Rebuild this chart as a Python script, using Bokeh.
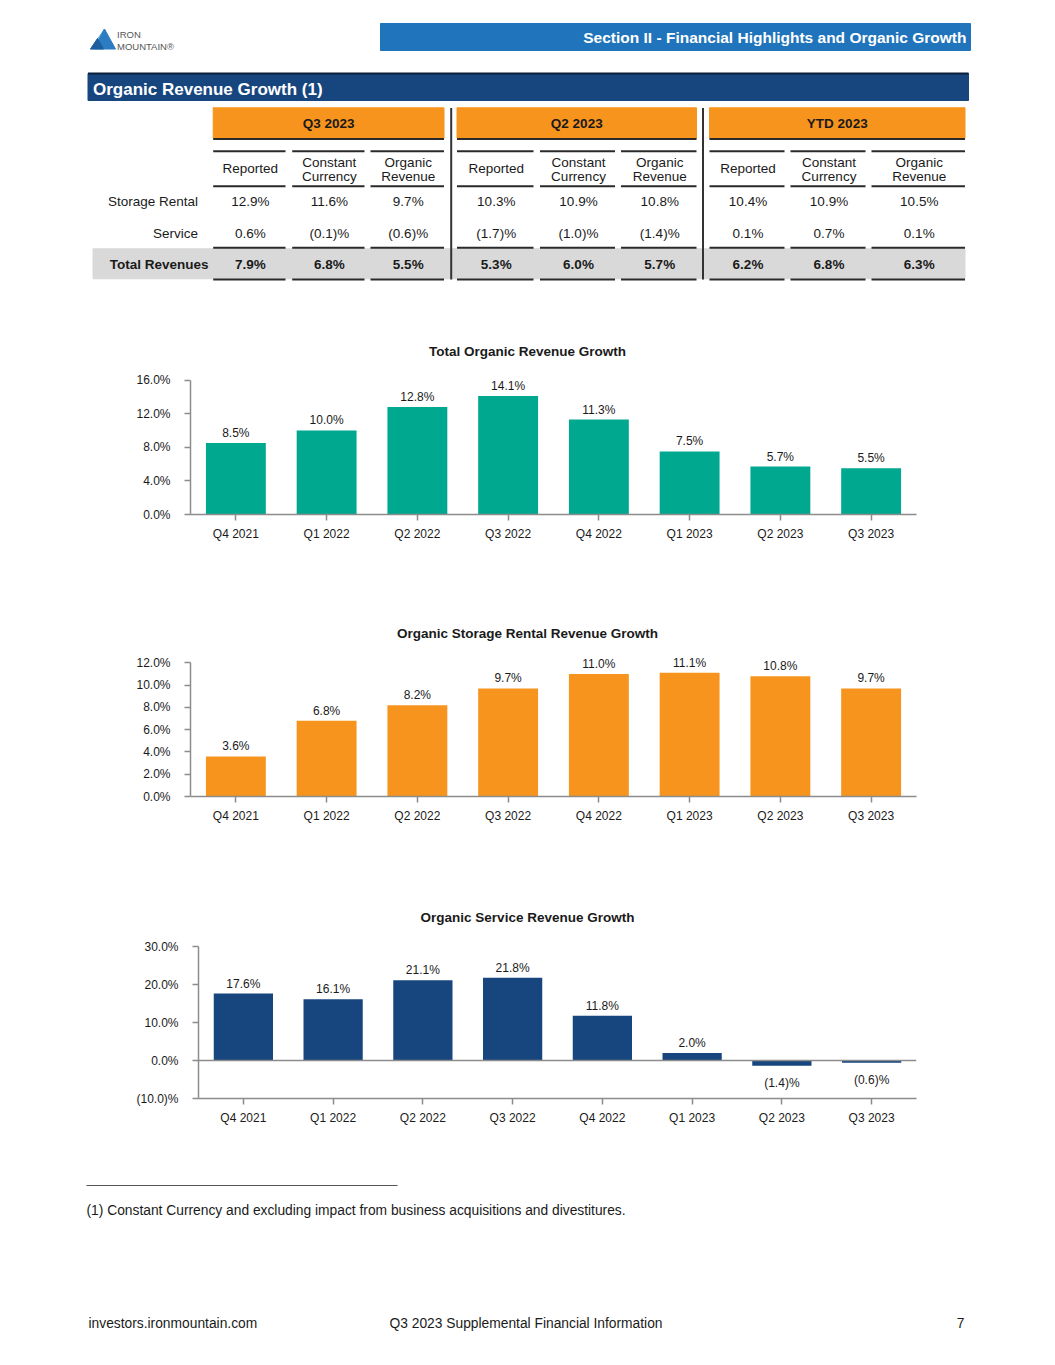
from bokeh.plotting import figure
from bokeh.models import FactorRange, Range1d, FixedTicker, Label, LabelSet, ColumnDataSource, Span
from bokeh.embed import file_html
from bokeh.resources import INLINE
from bokeh.core.properties import value

FONT = "Liberation Sans"
TXT = "#1a1a1a"
AXIS = "#8c8c8c"
TEAL = "#00A88F"
ORANGE = "#F7941D"
NAVY = "#17467F"
BANNER = "#1F74BB"
GRAY_BAND = "#D9D9D9"
PAGE_W = 1039

# ---------------- data ----------------
quarters = ["Q4 2021", "Q1 2022", "Q2 2022", "Q3 2022", "Q4 2022", "Q1 2023", "Q2 2023", "Q3 2023"]
total_growth = [8.5, 10.0, 12.8, 14.1, 11.3, 7.5, 5.7, 5.5]
storage_growth = [3.6, 6.8, 8.2, 9.7, 11.0, 11.1, 10.8, 9.7]
service_growth = [17.6, 16.1, 21.1, 21.8, 11.8, 2.0, -1.4, -0.6]

total_ticks = [0, 4, 8, 12, 16]
total_tick_labels = ["0.0%", "4.0%", "8.0%", "12.0%", "16.0%"]
storage_ticks = [0, 2, 4, 6, 8, 10, 12]
storage_tick_labels = ["0.0%", "2.0%", "4.0%", "6.0%", "8.0%", "10.0%", "12.0%"]
service_ticks = [-10, 0, 10, 20, 30]
service_tick_labels = ["(10.0)%", "0.0%", "10.0%", "20.0%", "30.0%"]

periods = ["Q3 2023", "Q2 2023", "YTD 2023"]
measures = [["Reported"], ["Constant", "Currency"], ["Organic", "Revenue"]]
row_labels = ["Storage Rental", "Service", "Total Revenues"]
storage_rental_row = [12.9, 11.6, 9.7, 10.3, 10.9, 10.8, 10.4, 10.9, 10.5]
service_row = [0.6, -0.1, -0.6, -1.7, -1.0, -1.4, 0.1, 0.7, 0.1]
total_row = [7.9, 6.8, 5.5, 5.3, 6.0, 5.7, 6.2, 6.8, 6.3]

section_title = "Section II - Financial Highlights and Organic Growth"
table_title = "Organic Revenue Growth (1)"
chart_titles = ["Total Organic Revenue Growth", "Organic Storage Rental Revenue Growth",
                "Organic Service Revenue Growth"]
footnote = "(1) Constant Currency and excluding impact from business acquisitions and divestitures."
footer_left = "investors.ironmountain.com"
footer_mid = "Q3 2023 Supplemental Financial Information"
footer_page = "7"


def pct(v):
    return f"({abs(v):.1f})%" if v < 0 else f"{v:.1f}%"


def txt(p, x, y, s, size="13.5px", align="center", bold=False, color=TXT, baseline="middle"):
    p.text(x=[x], y=[y], text=[s], text_font=value(FONT), text_font_size=size,
           text_align=align, text_baseline=baseline, text_color=color,
           text_font_style="bold" if bold else "normal")


def page_fig(y0, y1):
    p = figure(width=PAGE_W, height=y1 - y0, x_range=Range1d(0, PAGE_W), y_range=Range1d(y1, y0),
               output_backend="svg", toolbar_location=None, min_border=0,
               x_axis_location=None, y_axis_location=None, outline_line_color=None)
    p.grid.visible = False
    return p


# ---------------- header + table ----------------
top = page_fig(0, 300)

# logo
top.patch(x=[90, 104, 101, 94], y=[48.5, 28.5, 34, 48.5], color="#6AB2E0")
top.patch(x=[94, 101, 104, 115], y=[48.5, 34, 28.5, 48.5], color="#2B7CC1")
top.patch(x=[90, 97, 103, 96], y=[48.5, 38, 48.5, 48.5], color="#1E5E9E")
txt(top, 116.5, 34, "IRON", size="9.5px", align="left", color="#555555")
txt(top, 116.5, 45.5, "MOUNTAIN®", size="9.5px", align="left", color="#555555")

# section banner
top.quad(left=[380], right=[970], top=[23], bottom=[50], color=BANNER)
txt(top, 966, 36.5, section_title, size="15.5px", align="right", bold=True, color="white")

# table title banner
top.quad(left=[87.5], right=[968], top=[73], bottom=[100], color=NAVY)
top.segment(x0=[87.5], x1=[968], y0=[73], y1=[73], line_color="#0b1f3a", line_width=2)
txt(top, 92.5, 88.5, table_title, size="17px", align="left", bold=True, color="white")

group_spans = [(212.7, 443.5), (456.5, 696), (709, 964.5)]
col_spans = [(212.7, 285), (291.7, 364), (370, 443.5),
             (456.5, 533), (539.5, 614.5), (620.5, 696),
             (709, 784), (790, 865), (871, 964.5)]
col_centers = [(a + b) / 2 + 1 for a, b in col_spans]

# gray band for total row
top.quad(left=[92.5], right=[964.5], top=[248.3], bottom=[278.3], color=GRAY_BAND)

for (a, b), name in zip(group_spans, periods):
    top.quad(left=[a], right=[b], top=[107.3], bottom=[138], color=ORANGE)
    top.segment(x0=[a], x1=[b], y0=[138.5], y1=[138.5], line_color="#2a2a2a", line_width=2)
    txt(top, (a + b) / 2, 123, name, bold=True)

for y in (150.7, 185.7, 247.3, 279):
    top.segment(x0=[a for a, b in col_spans], x1=[b for a, b in col_spans],
                y0=[y] * 9, y1=[y] * 9, line_color="#2a2a2a", line_width=2)

for xs in (450.7, 702.5):
    top.segment(x0=[xs], x1=[xs], y0=[107.5], y1=[279], line_color="#333333", line_width=2)

for i, cx in enumerate(col_centers):
    m = measures[i % 3]
    if len(m) == 1:
        txt(top, cx, 168.3, m[0])
    else:
        txt(top, cx, 161.5, m[0])
        txt(top, cx, 175.5, m[1])

row_y = [201, 232.5, 263.5]
txt(top, 197.5, row_y[0], row_labels[0], align="right")
txt(top, 197.5, row_y[1], row_labels[1], align="right")
txt(top, 208, row_y[2], row_labels[2], align="right", bold=True)
for rows, y, bold in ((storage_rental_row, row_y[0], False), (service_row, row_y[1], False),
                      (total_row, row_y[2], True)):
    top.text(x=col_centers, y=[y] * 9, text=[pct(v) for v in rows], text_font=value(FONT),
             text_font_size="13.5px", text_align="center", text_baseline="middle",
             text_color=TXT, text_font_style="bold" if bold else "normal")


# ---------------- bar charts ----------------
def bar_chart(values, color, ticks, tick_labels, title, fig_top, tick_top, axis_y, fig_bot,
              f_left, f_right, title_y):
    lo, hi = ticks[0], ticks[-1]
    f_h = axis_y - fig_top
    ppu = (axis_y - tick_top) / (hi - lo)
    f_w = f_right - f_left
    p = figure(x_range=FactorRange(factors=quarters), y_range=Range1d(lo, lo + f_h / ppu),
               frame_width=f_w, frame_height=f_h,
               min_border_top=0, min_border_bottom=fig_bot - axis_y,
               min_border_left=f_left, min_border_right=PAGE_W - f_right,
               output_backend="svg", toolbar_location=None, outline_line_color=None)
    p.grid.visible = False
    src = ColumnDataSource(dict(x=quarters, top=values))
    p.vbar(x="x", top="top", bottom=0, width=0.66, source=src, fill_color=color, line_color=None)
    if lo < 0:
        p.add_layout(Span(location=0, dimension="width", line_color=AXIS, line_width=1.5))
    pos = [(q, v) for q, v in zip(quarters, values) if v >= 0]
    neg = [(q, v) for q, v in zip(quarters, values) if v < 0]
    for items, off in ((pos, 10), (neg, -17)):
        if not items:
            continue
        s = ColumnDataSource(dict(x=[a for a, b in items], y=[b for a, b in items],
                                  t=[pct(b) for a, b in items]))
        p.add_layout(LabelSet(x="x", y="y", text="t", source=s, y_offset=off,
                              text_align="center", text_baseline="middle",
                              text_font=value(FONT), text_font_size=value("12px"),
                              text_color=TXT))
    # title
    tx = (527 - f_left) / (f_w / len(quarters))
    ty = lo + (axis_y - title_y) / ppu
    p.add_layout(Label(x=tx, y=ty, text=title, text_align="center", text_baseline="middle",
                       text_font=FONT, text_font_size="13.5px", text_font_style="bold",
                       text_color=TXT))
    for ax in (p.xaxis[0], p.yaxis[0]):
        ax.axis_line_color = AXIS
        ax.axis_line_width = 1.5
        ax.major_tick_line_color = AXIS
        ax.major_tick_line_width = 1.5
        ax.major_tick_in = 0
        ax.major_tick_out = 6
        ax.minor_tick_line_color = None
        ax.major_label_text_font = FONT
        ax.major_label_text_font_size = "12px"
        ax.major_label_text_color = TXT
    p.xaxis.major_label_standoff = 6
    p.yaxis.major_label_standoff = 14
    p.yaxis.bounds = (lo, hi)
    p.yaxis.ticker = FixedTicker(ticks=ticks)
    p.yaxis.major_label_overrides = {t: l for t, l in zip(ticks, tick_labels)}
    return p


c1 = bar_chart(total_growth, TEAL, total_ticks, total_tick_labels, chart_titles[0],
               300, 379.5, 514, 585, 190, 916, 350.7)
c2 = bar_chart(storage_growth, ORANGE, storage_ticks, storage_tick_labels, chart_titles[1],
               585, 662.3, 796, 870, 190, 916, 633.3)
c3 = bar_chart(service_growth, NAVY, service_ticks, service_tick_labels, chart_titles[2],
               870, 946, 1098, 1150, 198, 916, 917.3)

# ---------------- footer ----------------
bot = page_fig(1150, 1357)
bot.segment(x0=[86], x1=[397], y0=[1185], y1=[1185], line_color="#555555", line_width=1)
txt(bot, 86, 1209.5, footnote, size="13.8px", align="left")
txt(bot, 88, 1322.5, footer_left, size="13.8px", align="left")
txt(bot, 389, 1322.5, footer_mid, size="13.8px", align="left")
txt(bot, 964, 1322.5, footer_page, size="13.8px", align="right")

pages = [top, c1, c2, c3, bot]
open("out.html", "w").write(file_html(pages, INLINE))
